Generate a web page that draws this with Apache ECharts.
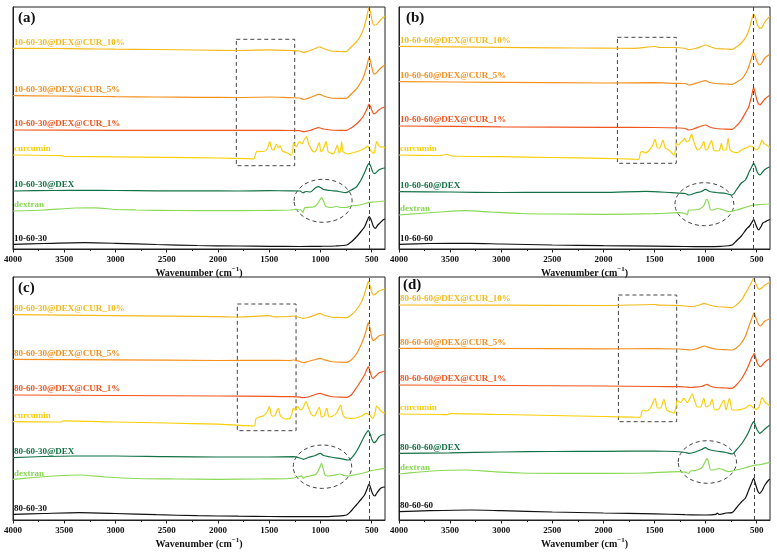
<!DOCTYPE html>
<html><head><meta charset="utf-8">
<script src="https://cdn.jsdelivr.net/npm/echarts@6/dist/echarts.min.js"></script>
<style>html,body{margin:0;padding:0;background:#fff}#c{width:777px;height:553px}</style>
</head><body><div id="c"></div>
<script>
// ---------- data (x: wavenumber cm^-1, y: offset transmittance, a.u.) ----------
const panelTags = ['(a)', '(b)', '(c)', '(d)'];
const sampleNames = [
  ['10-60-30@DEX@CUR_10%', '10-60-30@DEX@CUR_5%', '10-60-30@DEX@CUR_1%', 'curcumin', '10-60-30@DEX', 'dextran', '10-60-30'],
  ['10-60-60@DEX@CUR_10%', '10-60-60@DEX@CUR_5%', '10-60-60@DEX@CUR_1%', 'curcumin', '10-60-60@DEX', 'dextran', '10-60-60'],
  ['80-60-30@DEX@CUR_10%', '80-60-30@DEX@CUR_5%', '80-60-30@DEX@CUR_1%', 'curcumin', '80-60-30@DEX', 'dextran', '80-60-30'],
  ['80-60-60@DEX@CUR_10%', '80-60-60@DEX@CUR_5%', '80-60-60@DEX@CUR_1%', 'curcumin', '80-60-60@DEX', 'dextran', '80-60-60']
];
const majorTicks = [4000, 3500, 3000, 2500, 2000, 1500, 1000, 500];
const minorTicks = [3750, 3250, 2750, 2250, 1750, 1250, 750];
const peakLine = [523, 529, 523, 522];
// dashed boxes: [w_left, w_right, y_top, y_bottom]
const boxes = [[1821, 1251, 209.7, 83.3], [1863, 1287, 211.7, 85.7], [1811, 1238, 216, 89.3], [1853, 1283, 225, 98.3]];
// dashed ellipses: [w_center, y_center, w_radius, y_radius]
const ellipses = [[974, 48.2, 283, 21.5], [1012, 44.8, 288, 21.5], [980, 53.3, 285, 21.7], [983, 58, 285, 21.3]];

// ---- panel (a) ----
const a_cur10 = [[4000,200.7],[3600,200.5],[3300,200.2],[3000,199.8],[2600,199.5],[2200,199],[1800,198.5],[1500,199.2],[1300,198.5],[1200,198],[1170,196.7],[1140,197.2],[1100,198.5],[1050,200.5],[1020,202],[1000,201.8],[970,200.5],[900,198],[820,197.5],[750,197.3],[700,202],[650,207],[610,213],[580,220],[555,229],[538,237],[525,241.5],[510,236],[495,228],[480,224],[460,224],[430,227],[400,230.5],[370,233]];
const a_cur5 = [[4000,153.3],[3600,153],[3300,152.7],[3000,152.3],[2600,152],[2200,151.7],[1800,151.5],[1500,152],[1300,151.3],[1200,151],[1170,149.7],[1140,150],[1100,151.5],[1050,153.5],[1020,154.7],[1000,154.5],[970,153],[900,151],[820,150.7],[750,150.7],[700,155],[650,160],[610,166],[580,172],[555,180],[538,187],[525,191.7],[510,187],[495,180],[480,175],[460,175.5],[430,179],[400,182],[370,184]];
const a_cur1 = [[4000,119],[3000,118.7],[2000,118.7],[1500,118.7],[1300,118.5],[1200,118.3],[1170,117.3],[1140,117.7],[1100,118.5],[1050,120.5],[1020,121.3],[1000,121],[970,120],[900,119],[820,118.7],[750,118.7],[700,121],[650,125],[610,129],[580,133],[555,138],[538,142],[525,145],[510,142],[495,138],[480,135],[460,136],[430,139],[400,141],[370,142]];
const a_curcumin = [[4000,94],[3600,93.5],[3520,93.3],[3500,92.7],[3000,92.2],[2500,91.7],[2000,91],[1700,90.3],[1650,90],[1630,96],[1615,98],[1600,97.5],[1560,97.5],[1520,100],[1495,107.3],[1475,100],[1455,99],[1430,105],[1410,101],[1395,103.5],[1370,98],[1320,96],[1285,93.7],[1270,99],[1262,106.3],[1245,103],[1233,102.3],[1215,106],[1200,107.3],[1180,105],[1160,109],[1135,112.3],[1115,105],[1100,102],[1085,99],[1060,97],[1040,99],[1012,106.3],[995,97.3],[975,99],[946,107.3],[925,97.3],[900,96],[875,95],[850,100],[836,104],[818,96],[800,101],[793,107.3],[780,97.3],[760,96],[729,95],[690,96],[647,97.3],[600,99],[566,100.7],[540,103],[520,100],[501,97.3],[479,95.7],[465,101],[451,107.3],[435,104],[419,102.3],[387,102],[370,101]];
const a_dex = [[4000,58],[3600,58.5],[3300,58.7],[3000,58.5],[2600,58.2],[2200,58.2],[1800,58],[1500,58.3],[1300,58.2],[1200,58],[1170,56.3],[1140,57.5],[1100,57],[1050,61],[1020,62.3],[1000,61.5],[970,59.5],[900,58.5],[820,57.5],[750,56.3],[700,59],[650,62],[610,68],[580,74],[555,80],[538,84],[525,85.7],[510,83],[495,78.5],[480,75.5],[460,76],[430,79],[400,80.5],[370,81]];
const a_dextran = [[4000,38],[3700,39],[3400,41],[3200,41.2],[3000,39.5],[2800,39],[2400,38.5],[2000,38.3],[1600,38.5],[1300,39],[1230,39.5],[1190,39],[1170,36.7],[1155,41],[1120,41.7],[1070,42],[1030,45],[1000,50],[988,51.5],[970,48],[950,43],[930,42],[900,41.5],[842,42.5],[800,41.5],[744,41.7],[700,43],[614,44],[560,45.5],[524,46.7],[480,47],[420,47.5],[370,48]];
const a_base = [[4000,4.7],[3700,5.5],[3300,6.3],[3000,5.7],[2600,4.5],[2200,3.5],[1800,3],[1500,2.7],[1200,2.5],[1000,2.7],[850,3],[744,4],[700,7],[650,12],[600,18],[570,22],[545,28],[524,32.3],[505,29],[485,23],[465,20.7],[440,24],[419,26],[390,29],[370,30]];

// ---- panel (b) ----
const b_cur10 = [[4000,202.7],[3500,202.2],[3000,201.7],[2500,201.2],[2000,200.8],[1700,200.7],[1495,202.5],[1450,201.5],[1300,201.5],[1200,200.5],[1164,199.5],[1100,200.5],[1040,202.5],[1000,204],[960,202.5],[900,200.5],[800,200],[741,199.7],[700,202],[650,206],[600,213],[570,221],[550,229],[530,235],[515,232],[495,225],[470,220.7],[450,221.5],[420,227],[383,231.7],[370,232.5]];
const b_cur5 = [[4000,167.3],[3000,166.7],[2000,166],[1500,166.3],[1300,165.7],[1200,165.5],[1164,164],[1120,165],[1040,167.5],[1000,168.3],[960,166.5],[900,165.5],[800,165],[741,164.7],[680,168],[640,170.7],[600,177],[578,182.3],[550,191],[530,196.7],[515,193],[495,187],[470,184],[450,186],[420,191],[383,194],[370,194.5]];
const b_cur1 = [[4000,123],[3000,122.2],[2000,121.7],[1500,121.5],[1250,121],[1200,120.5],[1164,119],[1120,120],[1040,123],[1000,124],[960,122],[900,120.5],[800,119.8],[741,119.7],[690,124],[650,129],[600,138],[578,142.3],[550,153],[530,161.7],[515,156],[495,148],[470,144],[450,146],[420,150],[383,153],[370,153.5]];
const b_curcumin = [[4000,94],[3600,93.5],[3530,94.5],[3480,93],[3000,92.3],[2500,91.5],[2000,90.7],[1700,89.8],[1655,89.7],[1635,97],[1615,97.3],[1590,96],[1560,98],[1520,103],[1495,109.7],[1470,101],[1450,101],[1418,109],[1395,101],[1360,99],[1330,96],[1310,94],[1295,99],[1287,105.7],[1265,104],[1240,107],[1215,109],[1203,110.7],[1185,107],[1160,109],[1138,115],[1120,109],[1100,103],[1080,99],[1050,101],[1017,107.3],[1000,99],[980,100],[943,108.3],[920,99],[890,98],[864,99],[845,105.7],[830,99],[800,99],[780,110.7],[760,99],[730,97],[692,96.3],[650,99],[617,100.7],[590,101.5],[572,103],[540,102.3],[507,99],[480,101],[460,106],[448,109],[430,105.7],[405,104],[383,102.3],[370,102]];
const b_dex = [[4000,57.3],[3500,57],[3000,56.5],[2500,56.7],[2000,56.7],[1587,57.7],[1330,56.3],[1200,55.5],[1164,54],[1100,56],[1040,57.5],[1001,59.7],[960,57.5],[900,56.5],[800,55.5],[741,54],[700,59],[650,66],[611,69],[570,78],[545,83],[530,85.7],[515,83],[495,77],[470,74],[450,76],[420,79.5],[383,81.7],[370,82]];
const b_dextran = [[4000,34],[3800,35.5],[3600,37],[3350,38.3],[3100,37],[2800,35.5],[2500,35],[2000,34.7],[1500,35.3],[1262,36.3],[1200,35.5],[1180,34],[1165,39],[1120,39],[1060,40],[1020,43],[995,49],[985,49.7],[970,46],[950,39],[930,39],[880,40.5],[840,39.5],[773,37.3],[700,39],[600,42],[530,44],[460,44.5],[383,45],[370,45.2]];
const b_base = [[4000,4.7],[3700,5.5],[3300,5.7],[3000,5],[2500,4],[2000,3.3],[1500,2.8],[1200,2.5],[1000,2.3],[850,2.7],[741,4],[700,8],[650,13],[600,20],[570,23],[545,27],[530,29.7],[515,26],[495,21],[481,19],[460,22],[440,26],[416,27.3],[383,29],[370,29.5]];

// ---- panel (c) ----
const c_cur10 = [[4000,205.3],[3500,204.8],[3000,204.3],[2500,203.8],[2000,203.3],[1800,203],[1500,204.3],[1450,203.2],[1300,203.5],[1265,204],[1200,202.5],[1167,201.7],[1120,202.5],[1050,205],[1004,206.7],[970,205],[900,203],[800,202.5],[744,202.3],[700,205],[650,210],[600,218],[570,226],[550,233],[533,238.3],[515,234],[500,228],[484,225],[460,226],[430,229],[400,230],[370,231]];
const c_cur5 = [[4000,160.7],[3000,160.2],[2000,159.5],[1500,159.7],[1300,159.5],[1265,160],[1200,158.5],[1167,157.3],[1120,158.5],[1050,160.5],[1004,161.7],[970,160.5],[900,158.5],[800,157.8],[744,157.7],[700,160],[650,166],[600,176],[570,184],[550,191],[533,197.3],[515,191],[500,183],[484,179.3],[460,181],[430,184],[400,185],[370,185.5]];
const c_cur1 = [[4000,125],[3000,124.5],[2000,124],[1500,123.7],[1265,123.3],[1200,122.8],[1170,122.3],[1120,123],[1050,125.5],[1004,126.7],[970,125.5],[900,123.5],[800,122.8],[744,122.7],[700,125],[650,132],[600,140],[570,145],[550,150],[533,153.3],[515,148],[500,143],[484,141.7],[460,144],[430,147],[400,148],[370,148.5]];
const c_curcumin = [[4000,98.3],[3600,98],[3530,98],[3510,99.2],[3000,98],[2500,97],[2000,95.8],[1700,94.3],[1645,94],[1630,101],[1600,103],[1560,104],[1520,108],[1499,113.3],[1475,104],[1450,104],[1411,111.7],[1390,104],[1340,101],[1297,101.7],[1280,106],[1265,111.7],[1245,110],[1220,113.3],[1195,110],[1170,112],[1141,118.3],[1115,111.7],[1090,106],[1060,104],[1011,112.7],[990,103],[965,104],[939,111.7],[915,103],[880,104],[842,107],[802,115],[785,106],[750,102],[711,101.7],[650,102],[600,104],[555,106.7],[522,105],[490,101.7],[470,106],[451,114],[430,111.7],[400,108],[370,106.7]];
const c_dex = [[4000,62.3],[3700,63.5],[3400,64],[3000,64],[2500,63.3],[2000,63],[1500,63],[1265,63.3],[1200,62],[1167,60.7],[1120,62.5],[1050,64.5],[1002,66.7],[970,64.5],[900,63],[800,61.3],[727,60],[680,64],[640,70],[600,78],[570,84],[550,87.5],[533,89.3],[515,86],[495,80],[477,77.3],[455,79],[430,83],[400,85],[370,85.5]];
const c_dextran = [[4000,40.7],[3800,42.5],[3600,44],[3350,45],[3100,43],[2800,41.5],[2400,41],[2000,40.7],[1600,41],[1300,41.5],[1200,43.5],[1185,44.5],[1170,41.7],[1150,43],[1100,44],[1040,46],[1005,53],[989,56.7],[975,52],[955,45],[930,44],[880,44.5],[808,46],[770,44.5],[727,44],[650,45.5],[560,47.5],[500,49.5],[440,50.5],[370,51.7]];
const c_base = [[4000,5.7],[3700,6.5],[3350,7.3],[3000,6.5],[2600,5.3],[2200,4.3],[1800,3.8],[1500,3.5],[1200,3.3],[1000,3.3],[850,3.8],[744,5],[700,9],[650,15],[600,21],[570,25],[545,31],[526,36],[510,32],[490,26],[470,24],[450,27],[420,31],[395,32.7],[370,33]];

// ---- panel (d) ----
const d_cur10 = [[4000,215],[3000,214.8],[2000,214.5],[1500,215.5],[1450,214.8],[1300,214.7],[1250,214.5],[1200,214],[1148,213.3],[1100,214],[1040,215.8],[1017,216.7],[980,215.5],[900,213.5],[800,212.8],[741,212.3],[700,215],[650,220],[610,226.7],[580,232],[550,238],[530,241.7],[515,238],[495,233],[471,230.7],[450,232],[420,235],[383,237.3],[370,238]];
const d_cur5 = [[4000,171.7],[3000,171.5],[2000,171.2],[1500,171.3],[1250,171],[1200,170.5],[1148,170],[1100,171],[1040,173],[1010,174],[980,173],[900,171],[800,170.3],[741,170],[700,172],[650,177],[610,184],[578,193.3],[550,201],[525,207.3],[510,203],[490,197],[465,194],[445,196],[420,199],[383,200.7],[370,201]];
const d_cur1 = [[4000,135],[3000,134.5],[2000,134],[1500,133.5],[1250,133.3],[1200,133],[1150,132.5],[1100,132.8],[1040,133.5],[1000,135.2],[985,135.7],[960,134],[900,132.5],[800,132],[741,131.7],[700,135],[650,141],[600,150],[570,157],[545,163],[523,166.7],[510,162],[490,156],[464,153.3],[445,155],[420,158],[383,160.7],[370,161]];
const d_curcumin = [[4000,106],[3600,105.5],[3530,105.3],[3500,106.3],[3000,105.5],[2500,104.5],[2000,103.5],[1700,102.8],[1640,102.7],[1625,108],[1610,110],[1580,109],[1540,112],[1495,121.7],[1470,112],[1440,112],[1408,120.7],[1380,110],[1340,108],[1310,106.7],[1290,113],[1278,119.3],[1245,117.5],[1213,121.7],[1180,117.5],[1131,126],[1110,120],[1080,113],[1050,113],[1017,121.7],[995,113],[960,115],[936,120.7],[910,110],[870,111],[855,114],[822,120],[800,110],[767,121.7],[740,110],[692,110],[640,111],[611,112],[570,115],[530,112],[497,110.7],[470,115],[448,122.3],[420,118],[383,115],[370,114.5]];
const d_dex = [[4000,66.7],[3500,67.2],[3000,68],[2500,68.5],[2000,68.7],[1500,69],[1300,68.5],[1200,67.5],[1164,66.7],[1100,68],[1040,70.5],[1001,72.3],[970,70.5],[900,69],[800,67.5],[741,66],[700,70],[650,76],[611,82],[578,88.3],[550,95],[530,98.3],[515,95],[495,90],[470,86.7],[450,88],[420,91],[383,94],[370,94.5]];
const d_dextran = [[4000,46],[3800,48],[3600,49.5],[3350,50],[3100,48.5],[2800,47],[2400,46.7],[2000,46.7],[1600,47],[1262,48.3],[1200,47.8],[1164,46.7],[1150,49],[1100,49.5],[1040,52],[1000,59],[985,61.7],[970,57],[950,50],[920,50],[870,51.5],[840,50.8],[773,48.3],[700,50],[620,52],[530,54.5],[460,55.5],[383,57.3],[370,57.5]];
const d_base = [[4000,8.3],[3700,9.3],[3300,10],[3000,9.3],[2500,8],[2000,7],[1500,6.2],[1200,5.3],[1000,5],[900,5.7],[886,7],[870,5.5],[840,6],[800,7],[741,7.3],[700,12],[650,18],[610,22],[578,30],[550,37],[530,41.7],[512,36],[490,29],[471,26.7],[450,29],[420,35],[383,40],[370,41]];

const panelData = [
  [a_cur10, a_cur5, a_cur1, a_curcumin, a_dex, a_dextran, a_base],
  [b_cur10, b_cur5, b_cur1, b_curcumin, b_dex, b_dextran, b_base],
  [c_cur10, c_cur5, c_cur1, c_curcumin, c_dex, c_dextran, c_base],
  [d_cur10, d_cur5, d_cur1, d_curcumin, d_dex, d_dextran, d_base]
];

// ---------- styling / layout ----------
const colors = ['#F5BA1C', '#F5901F', '#F1561F', '#FACF0A', '#137245', '#8AD956', '#111111'];
const FONT = '"Liberation Serif","Times New Roman",serif';
const grids = [
  {left: 13, top: 7, width: 372, height: 242},
  {left: 399, top: 7, width: 371, height: 242},
  {left: 13, top: 277, width: 372, height: 243},
  {left: 399, top: 277, width: 371, height: 243}
];
const tagPos = [[18, 18], [406, 18], [18, 288], [403, 285]];

const chart = echarts.init(document.getElementById('c'), null, {renderer: 'canvas'});

const option = {
  animation: false,
  backgroundColor: '#fff',
  grid: grids.map(g => Object.assign({show: true, borderColor: '#222', borderWidth: 1, backgroundColor: 'transparent'}, g)),
  xAxis: [],
  yAxis: [],
  series: []
};

grids.forEach((g, i) => {
  option.xAxis.push({
    gridIndex: i, type: 'value', inverse: true, min: 370, max: 4000,
    axisLine: {show: true, onZero: false, lineStyle: {color: '#222', width: 1}},
    axisTick: {show: true, length: 3.5, customValues: majorTicks, lineStyle: {color: '#222'}},
    splitLine: {show: false},
    axisLabel: {customValues: majorTicks, formatter: v => String(v), fontFamily: FONT, fontWeight: 'bold', fontSize: 9, color: '#111', margin: 6},
    name: 'Wavenumber (cm{sup|−1})',
    nameLocation: 'middle', nameGap: 17,
    nameTextStyle: {fontFamily: FONT, fontWeight: 'bold', fontSize: 10, color: '#111',
      rich: {sup: {fontFamily: FONT, fontWeight: 'bold', fontSize: 7, color: '#111', padding: [0, 0, 7, 0]}}}
  });
  option.yAxis.push({
    gridIndex: i, type: 'value', min: 0, max: g.height,
    axisLine: {show: true, lineStyle: {color: '#222'}},
    axisTick: {show: false}, axisLabel: {show: false}, splitLine: {show: false}
  });
});
// minor ticks via secondary axes
grids.forEach((g, i) => {
  option.xAxis.push({
    gridIndex: i, type: 'value', inverse: true, min: 370, max: 4000, position: 'bottom',
    axisLine: {show: false},
    axisTick: {show: true, length: 2, customValues: minorTicks, lineStyle: {color: '#222'}},
    axisLabel: {show: false}, splitLine: {show: false}
  });
});

panelData.forEach((curves, i) => {
  curves.forEach((arr, j) => {
    const s = {
      type: 'line', name: sampleNames[i][j], xAxisIndex: i, yAxisIndex: i,
      data: arr, showSymbol: false, symbol: 'none', smooth: 0.25,
      lineStyle: {color: colors[j], width: 1.2}, itemStyle: {color: colors[j]},
      clip: true, silent: true
    };
    if (j === 3) {
      const b = boxes[i];
      s.markArea = {silent: true, itemStyle: {color: 'rgba(0,0,0,0)', borderColor: '#444', borderWidth: 1, borderType: [4, 3]},
        data: [[{xAxis: b[0], yAxis: b[2]}, {xAxis: b[1], yAxis: b[3]}]]};
    }
    if (j === 6) {
      s.markLine = {silent: true, symbol: 'none', label: {show: false},
        lineStyle: {color: '#444', type: [4, 3], width: 1},
        data: [{xAxis: peakLine[i]}]};
    }
    option.series.push(s);
  });
});

chart.setOption(option);

// text labels & ellipses positioned through the axes
const graphics = [];
panelData.forEach((curves, i) => {
  curves.forEach((arr, j) => {
    const p = chart.convertToPixel({gridIndex: i}, arr[0]);
    graphics.push({type: 'text', x: grids[i].left + 1, y: p[1] - 1.5, silent: true,
      style: {text: sampleNames[i][j], fill: colors[j], font: 'bold 9px ' + FONT, textVerticalAlign: 'bottom', textAlign: 'left'}});
  });
  const e = ellipses[i];
  const p1 = chart.convertToPixel({gridIndex: i}, [e[0] - e[2], e[1] - e[3]]);
  const p2 = chart.convertToPixel({gridIndex: i}, [e[0] + e[2], e[1] + e[3]]);
  graphics.push({type: 'ellipse', silent: true,
    shape: {cx: (p1[0] + p2[0]) / 2, cy: (p1[1] + p2[1]) / 2, rx: Math.abs(p2[0] - p1[0]) / 2, ry: Math.abs(p2[1] - p1[1]) / 2},
    style: {fill: 'none', stroke: '#444', lineWidth: 1, lineDash: [4, 3]}});
  graphics.push({type: 'text', x: tagPos[i][0], y: tagPos[i][1], silent: true,
    style: {text: panelTags[i], fill: '#111', font: 'bold 15px ' + FONT, textVerticalAlign: 'middle', textAlign: 'left'}});
});
chart.setOption({graphic: graphics});
</script>
</body></html>
